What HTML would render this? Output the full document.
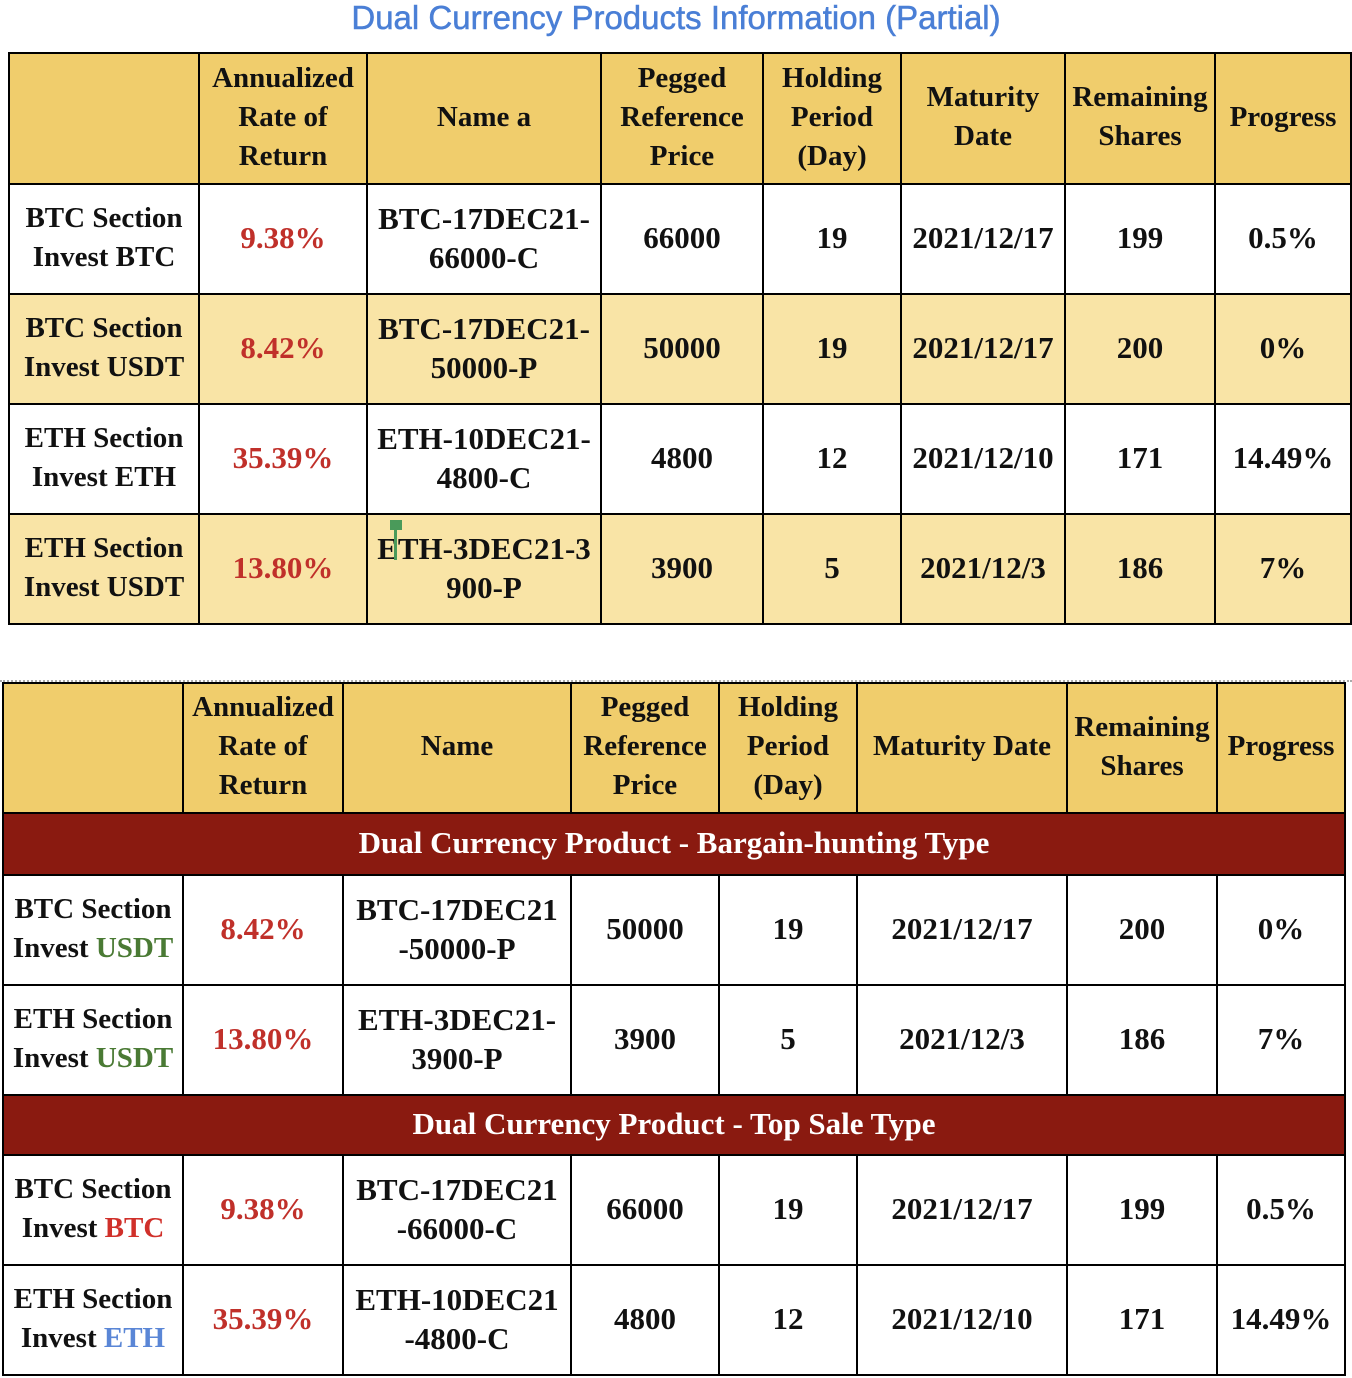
<!DOCTYPE html>
<html><head><meta charset="utf-8"><style>
body{margin:0;width:1352px;height:1378px;background:#fff;position:relative;overflow:hidden;font-family:"Liberation Serif",serif;}
.title{position:absolute;top:-1px;left:0;width:1352px;text-align:center;font-family:"Liberation Sans",sans-serif;color:#4a7fd6;font-size:33px;line-height:38px;-webkit-text-stroke:0.5px #4a7fd6;}
table{position:absolute;border-collapse:collapse;table-layout:fixed;}
td{border:2px solid #000;text-align:center;vertical-align:middle;font-weight:bold;font-size:31px;line-height:39px;color:#111;padding:0 0 3px 0;overflow:hidden;white-space:nowrap;}
.h td{background:#f0cd6c;font-size:29px;}
.y td{background:#f9e4a6;}
.w td{background:#fff;}
.r{color:#c0302a !important;}
.band td{background:#8a1a10;color:#fff;}
.g{color:#4a7a34;}.rd{color:#d0302a;}.b{color:#5a86d6;}
.dots{position:absolute;top:680px;left:0;width:1352px;border-top:2px dotted #aaa;}
.c1 td:first-child{font-size:29px;}
</style></head><body>
<div class="title">Dual Currency Products Information (Partial)</div>
<table style="left:8px;top:52px;width:1342px">
<colgroup><col style="width:190px"><col style="width:168px"><col style="width:234px"><col style="width:162px"><col style="width:138px"><col style="width:164px"><col style="width:150px"><col style="width:136px"></colgroup>
<tr class="h" style="height:131px"><td></td><td>Annualized<br>Rate of<br>Return</td><td>Name a</td><td>Pegged<br>Reference<br>Price</td><td>Holding<br>Period<br>(Day)</td><td>Maturity<br>Date</td><td>Remaining<br>Shares</td><td>Progress</td></tr>
<tr class="w c1" style="height:110px"><td>BTC Section<br>Invest BTC</td><td class="r">9.38%</td><td>BTC-17DEC21-<br>66000-C</td><td>66000</td><td>19</td><td>2021/12/17</td><td>199</td><td>0.5%</td></tr>
<tr class="y c1" style="height:110px"><td>BTC Section<br>Invest USDT</td><td class="r">8.42%</td><td>BTC-17DEC21-<br>50000-P</td><td>50000</td><td>19</td><td>2021/12/17</td><td>200</td><td>0%</td></tr>
<tr class="w c1" style="height:110px"><td>ETH Section<br>Invest ETH</td><td class="r">35.39%</td><td>ETH-10DEC21-<br>4800-C</td><td>4800</td><td>12</td><td>2021/12/10</td><td>171</td><td>14.49%</td></tr>
<tr class="y c1" style="height:110px"><td>ETH Section<br>Invest USDT</td><td class="r">13.80%</td><td>ETH-3DEC21-3<br>900-P</td><td>3900</td><td>5</td><td>2021/12/3</td><td>186</td><td>7%</td></tr>
</table>
<div style="position:absolute;left:390px;top:520px;width:12px;height:10px;background:#4a9a5a"></div>
<div style="position:absolute;left:394px;top:520px;width:3px;height:40px;background:#4a9a5a"></div>
<div class="dots"></div>
<table style="left:2px;top:682px;width:1342px">
<colgroup><col style="width:180px"><col style="width:160px"><col style="width:228px"><col style="width:148px"><col style="width:138px"><col style="width:210px"><col style="width:150px"><col style="width:128px"></colgroup>
<tr class="h" style="height:130px"><td></td><td>Annualized<br>Rate of<br>Return</td><td>Name</td><td>Pegged<br>Reference<br>Price</td><td>Holding<br>Period<br>(Day)</td><td>Maturity Date</td><td>Remaining<br>Shares</td><td>Progress</td></tr>
<tr class="band" style="height:62px"><td colspan="8">Dual Currency Product - Bargain-hunting Type</td></tr>
<tr class="w c1" style="height:110px"><td>BTC Section<br>Invest <span class="g">USDT</span></td><td class="r">8.42%</td><td>BTC-17DEC21<br>-50000-P</td><td>50000</td><td>19</td><td>2021/12/17</td><td>200</td><td>0%</td></tr>
<tr class="w c1" style="height:110px"><td>ETH Section<br>Invest <span class="g">USDT</span></td><td class="r">13.80%</td><td>ETH-3DEC21-<br>3900-P</td><td>3900</td><td>5</td><td>2021/12/3</td><td>186</td><td>7%</td></tr>
<tr class="band" style="height:60px"><td colspan="8">Dual Currency Product - Top Sale Type</td></tr>
<tr class="w c1" style="height:110px"><td>BTC Section<br>Invest <span class="rd">BTC</span></td><td class="r">9.38%</td><td>BTC-17DEC21<br>-66000-C</td><td>66000</td><td>19</td><td>2021/12/17</td><td>199</td><td>0.5%</td></tr>
<tr class="w c1" style="height:110px"><td>ETH Section<br>Invest <span class="b">ETH</span></td><td class="r">35.39%</td><td>ETH-10DEC21<br>-4800-C</td><td>4800</td><td>12</td><td>2021/12/10</td><td>171</td><td>14.49%</td></tr>
</table>
</body></html>
